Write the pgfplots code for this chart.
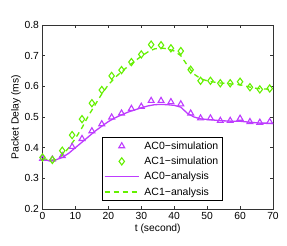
\documentclass[border=0pt]{standalone}
\usepackage{pgfplots}
\pgfplotsset{compat=1.18}
\usepackage{fontspec}
\setmainfont{Liberation Sans}
\usetikzlibrary{calc}
\definecolor{cpurple}{RGB}{190,60,255}
\definecolor{cgreen}{RGB}{100,240,0}
\begin{document}
\begin{tikzpicture}
\begin{axis}[
  scale only axis,
  width=230.5pt, height=184pt,
  xmin=0, xmax=70, ymin=0.2, ymax=0.8,
  xtick={0,10,...,70},
  ytick={0.2,0.3,...,0.8},
  yticklabel style={/pgf/number format/fixed,/pgf/number format/precision=1,/pgf/number format/fixed zerofill},
  /pgf/number format/assume math mode=true,
  tick label style={font=\fontsize{10.3}{12}\selectfont},
  label style={font=\fontsize{10.3}{12}\selectfont},
  xlabel={t (second)},
  ylabel={Packet Delay (ms)},
  xlabel style={yshift=3pt},
  ylabel style={yshift=-3pt},
  tick align=inside,
  major tick length=3pt,
  axis line style={black!80, line width=0.6pt},
  every tick/.style={black!80, line width=0.6pt},
  legend style={at={(0.257,0.39)}, anchor=north west, draw=black, line width=0.6pt,
    font=\fontsize{10.5}{12}\selectfont, inner xsep=2pt, inner ysep=2pt, row sep=2.2pt, legend cell align=left,
    /tikz/every odd column/.append style={column sep=3pt}},
  legend image code/.code={\draw[mark repeat=2,mark phase=2,#1] plot coordinates {(0cm,0cm) (0.6cm,0cm) (1.2cm,0cm)};},
]
\coordinate (sw) at (rel axis cs:0,0);
\coordinate (ne) at (rel axis cs:1,1);
\addplot[only marks, mark=triangle, mark size=3.4pt, cpurple, mark options={line width=1.1pt}] coordinates {
(0,0.364) (3,0.362) (6,0.373) (9,0.403) (12,0.429) (15,0.454) (18,0.477) (21,0.499)
(24,0.512) (27,0.527) (30,0.534) (33,0.553) (36,0.553) (39,0.549) (42,0.542) (45,0.512)
(48,0.496) (51,0.496) (54,0.488) (57,0.488) (60,0.495) (63,0.484) (66,0.482) (69,0.484)};
\addlegendentry{AC0−simulation}
\addplot[only marks, mark=diamond, mark size=3.6pt, cgreen, mark options={line width=1.1pt}] coordinates {
(0,0.368) (3,0.360) (6,0.390) (9,0.441) (12,0.493) (15,0.545) (18,0.588) (21,0.634)
(24,0.653) (27,0.679) (30,0.704) (33,0.736) (36,0.734) (39,0.724) (42,0.715) (45,0.654)
(48,0.618) (51,0.618) (54,0.610) (57,0.610) (60,0.615) (63,0.597) (66,0.590) (69,0.593)};
\addlegendentry{AC1−simulation}
\addplot[cpurple, line width=1.3pt, no marks] coordinates {
(0,0.360) (2,0.358) (4,0.360) (6,0.368) (8,0.382) (10,0.400) (12,0.418) (14,0.436)
(16,0.454) (18,0.470) (20,0.485) (22,0.497) (24,0.507) (26,0.516) (28,0.523) (30,0.530)
(32,0.536) (34,0.540) (36,0.541) (38,0.540) (40,0.538) (42,0.532) (44,0.512) (46,0.500)
(48,0.494) (50,0.492) (52,0.490) (54,0.488) (56,0.487) (58,0.486) (60,0.486) (62,0.484)
(64,0.482) (66,0.480) (68,0.480) (70,0.479)};
\addlegendentry{AC0−analysis}
\addplot[cgreen, line width=1.3pt, dash pattern=on 5pt off 4pt, no marks] coordinates {
(0,0.365) (2,0.360) (4,0.360) (6,0.375) (8,0.400) (10,0.430) (12,0.465) (14,0.505)
(16,0.540) (18,0.575) (20,0.605) (22,0.628) (24,0.648) (26,0.665) (28,0.682) (30,0.698)
(32,0.712) (34,0.722) (36,0.725) (38,0.722) (40,0.715) (42,0.700) (44,0.668) (46,0.640)
(48,0.625) (50,0.618) (52,0.614) (54,0.611) (56,0.609) (58,0.607) (60,0.605) (62,0.600)
(64,0.595) (66,0.592) (68,0.591) (70,0.590)};
\addlegendentry{AC1−analysis}
\end{axis}
\path[use as bounding box] ($(sw)+(-42.5pt,-37pt)$) rectangle ($(ne)+(14pt,25pt)$);
\end{tikzpicture}
\end{document}
